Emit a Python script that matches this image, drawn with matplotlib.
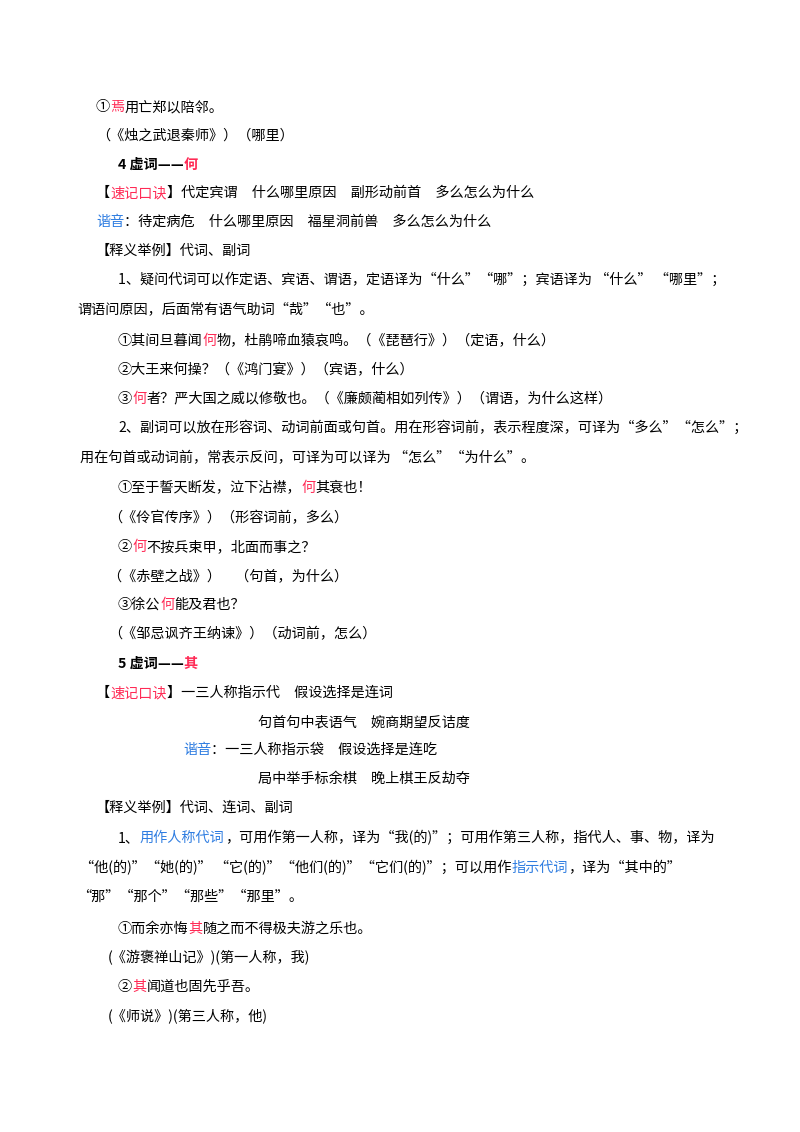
import matplotlib
matplotlib.use("Agg")
import matplotlib.pyplot as plt

FAM = ['Noto Sans CJK SC', 'DejaVu Sans']
K, R, B = '#000000', '#ff2a55', '#2f7de1'

# (x_px, y_px, [(text, color, bold), ...])
lines = [
    (96, 107, [("①", K, 0), ("焉", R, 0), ("用亡郑以陪邻。", K, 0)]),
    (96, 136, [("（《烛之武退秦师》）（哪里）", K, 0)]),
    (118, 165, [("4 虚词——", K, 1), ("何", R, 1)]),
    (96, 193, [("【", K, 0), ("速记口诀", R, 0), ("】代定宾谓　什么哪里原因　副形动前首　多么怎么为什么", K, 0)]),
    (96, 222, [("谐音", B, 0), ("：待定病危　什么哪里原因　福星洞前兽　多么怎么为什么", K, 0)]),
    (96, 251, [("【释义举例】代词、副词", K, 0)]),
    (118, 280, [("1、疑问代词可以作定语、宾语、谓语，定语译为“什么”“哪”；宾语译为 “什么” “哪里”；", K, 0)]),
    (77, 309, [("谓语问原因，后面常有语气助词“哉”“也”。", K, 0)]),
    (118, 341, [("①其间旦暮闻", K, 0), ("何", R, 0), ("物，杜鹃啼血猿哀鸣。（《琵琶行》）（定语，什么）", K, 0)]),
    (118, 370, [("②大王来何操？（《鸿门宴》）（宾语，什么）", K, 0)]),
    (118, 399, [("③", K, 0), ("何", R, 0), ("者？严大国之威以修敬也。（《廉颇蔺相如列传》）（谓语，为什么这样）", K, 0)]),
    (118, 428, [("2、副词可以放在形容词、动词前面或句首。用在形容词前，表示程度深，可译为“多么”“怎么”；", K, 0)]),
    (80, 458, [("用在句首或动词前，常表示反问，可译为可以译为 “怎么”“为什么”。", K, 0)]),
    (118, 488, [("①至于誓天断发，泣下沾襟，", K, 0), ("何", R, 0), ("其衰也！", K, 0)]),
    (108, 518, [("（《伶官传序》）（形容词前，多么）", K, 0)]),
    (118, 547, [("②", K, 0), ("何", R, 0), ("不按兵束甲，北面而事之？", K, 0)]),
    (108, 576, [("（《赤壁之战》）　（句首，为什么）", K, 0)]),
    (118, 605, [("③徐公", K, 0), ("何", R, 0), ("能及君也？", K, 0)]),
    (108, 634, [("（《邹忌讽齐王纳谏》）（动词前，怎么）", K, 0)]),
    (118, 664, [("5 虚词——", K, 1), ("其", R, 1)]),
    (96, 693, [("【", K, 0), ("速记口诀", R, 0), ("】一三人称指示代　假设选择是连词", K, 0)]),
    (258, 722, [("句首句中表语气　婉商期望反诘度", K, 0)]),
    (183, 750, [("谐音", B, 0), ("：一三人称指示袋　假设选择是连吃", K, 0)]),
    (258, 779, [("局中举手标余棋　晚上棋王反劫夺", K, 0)]),
    (96, 808, [("【释义举例】代词、连词、副词", K, 0)]),
    (118, 838, [("1、", K, 0), ("用作人称代词", B, 0), ("，可用作第一人称，译为“我(的)”；可用作第三人称，指代人、事、物，译为", K, 0)]),
    (80, 868, [("“他(的)”“她(的)” “它(的)”“他们(的)”“它们(的)”；可以用作", K, 0), ("指示代词", B, 0), ("，译为“其中的”", K, 0)]),
    (77, 897, [("“那”“那个”“那些”“那里”。", K, 0)]),
    (118, 929, [("①而余亦悔", K, 0), ("其", R, 0), ("随之而不得极夫游之乐也。", K, 0)]),
    (108, 958, [("(《游褒禅山记》)(第一人称，我)", K, 0)]),
    (118, 987, [("②", K, 0), ("其", R, 0), ("闻道也固先乎吾。", K, 0)]),
    (108, 1016, [("(《师说》)(第三人称，他)", K, 0)]),
]

W, H = 800, 1132
fig = plt.figure(figsize=(8, 11.32), dpi=100)
fig.patch.set_facecolor('white')
renderer = fig.canvas.get_renderer()
for x, y, segs in lines:
    cx = x
    for txt, col, bold in segs:
        t = fig.text(cx / W, 1 - y / H, txt, color=col, fontsize=10.2,
                     family=FAM, fontweight='bold' if bold else 'normal',
                     va='center', ha='left')
        bb = t.get_window_extent(renderer=renderer)
        cx += bb.width
fig.savefig("out.png", dpi=100, facecolor='white')
